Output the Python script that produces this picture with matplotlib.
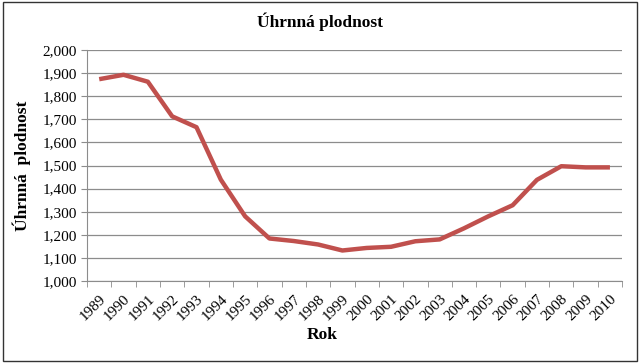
import matplotlib
matplotlib.use('Agg')
import matplotlib.pyplot as plt
from matplotlib.patches import Rectangle

roky = list(range(1989, 2011))
plodnost = [1.874, 1.893, 1.863, 1.713, 1.666, 1.439, 1.280, 1.184, 1.173, 1.158, 1.132,
            1.143, 1.148, 1.172, 1.180, 1.228, 1.280, 1.328, 1.438, 1.497, 1.492, 1.492]
y_ticks = [1.0, 1.1, 1.2, 1.3, 1.4, 1.5, 1.6, 1.7, 1.8, 1.9, 2.0]

plt.rcParams['font.family'] = ['Liberation Serif', 'DejaVu Serif']

fig = plt.figure(figsize=(6.4, 3.63), dpi=100)
ax = fig.add_axes([0.136, 0.226, 0.836, 0.636])

x = range(len(roky))
ax.plot(x, plodnost, color='#C0504D', linewidth=3.2, solid_capstyle='butt', zorder=3)

ax.set_ylim(1.0, 2.0)
ax.set_yticks(y_ticks)
ax.set_yticklabels([('%.3f' % v).replace('.', ',') for v in y_ticks])
ax.yaxis.grid(True, color='#8c8c8c', linewidth=0.9)
ax.set_axisbelow(True)

ax.set_xlim(-0.5, len(roky) - 0.5)
ax.set_xticks(list(x))
ax.set_xticklabels([str(r) for r in roky], rotation=45, ha='right', rotation_mode='anchor')
ax.set_xticks([i - 0.5 for i in range(len(roky) + 1)], minor=True)
ax.tick_params(axis='x', which='major', length=0, pad=8, labelsize=11)
ax.tick_params(axis='x', which='minor', length=4, color='#8c8c8c', direction='out')
ax.tick_params(axis='y', length=4, color='#8c8c8c', labelsize=11)

for s in ['top', 'right']:
    ax.spines[s].set_visible(False)
for s in ['left', 'bottom']:
    ax.spines[s].set_color('#8c8c8c')

# nadpis a popis osy x jsou vystredene na cely obrazek, ne na osy
fig.text(0.5, 0.94, 'Úhrnná plodnost', fontsize=12.5, fontweight='bold', ha='center', va='center')
fig.text(0.503, 0.076, 'Rok', fontsize=12.5, fontweight='bold', ha='center', va='center')
ax.set_ylabel('Úhrnná  plodnost', fontsize=12.5, fontweight='bold', labelpad=8)

fig.patches.append(Rectangle((0.004, 0.006), 0.992, 0.988, transform=fig.transFigure,
                             fill=False, edgecolor='#333333', linewidth=1))

fig.savefig('out.png', dpi=100)
